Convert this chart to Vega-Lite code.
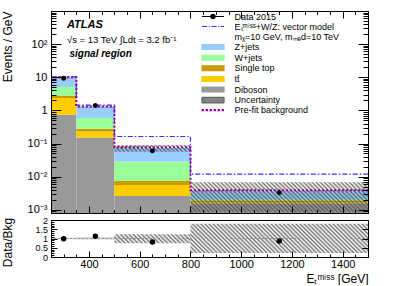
{
  "$schema": "https://vega.github.io/schema/vega-lite/v6.json",
  "padding": {"left": 0, "top": 10, "right": 0, "bottom": 0},
  "bounds": "flush",
  "spacing": 7,
  "config": {
    "font": "Liberation Sans",
    "view": {"stroke": "black", "strokeWidth": 1},
    "axis": {"grid": false, "domainColor": "black", "tickColor": "black", "labelColor": "black", "titleColor": "black", "titleFontWeight": "normal", "tickWidth": 1, "domainWidth": 1}
  },
  "datasets": {
    "stack": [
      {"lo": 250, "hi": 350, "process": "Diboson", "v": 0.74},
      {"lo": 250, "hi": 350, "process": "tt\u0304", "v": 1.62},
      {"lo": 250, "hi": 350, "process": "Single top", "v": 0.44},
      {"lo": 250, "hi": 350, "process": "W+jets", "v": 2.3},
      {"lo": 250, "hi": 350, "process": "Z+jets", "v": 4.2},
      {"lo": 350, "hi": 500, "process": "Diboson", "v": 0.152},
      {"lo": 350, "hi": 500, "process": "tt\u0304", "v": 0.079},
      {"lo": 350, "hi": 500, "process": "Single top", "v": 0.048},
      {"lo": 350, "hi": 500, "process": "W+jets", "v": 0.306},
      {"lo": 350, "hi": 500, "process": "Z+jets", "v": 0.675},
      {"lo": 500, "hi": 800, "process": "Diboson", "v": 0.0026},
      {"lo": 500, "hi": 800, "process": "tt\u0304", "v": 0.003},
      {"lo": 500, "hi": 800, "process": "Single top", "v": 0.0018},
      {"lo": 500, "hi": 800, "process": "W+jets", "v": 0.0211},
      {"lo": 500, "hi": 800, "process": "Z+jets", "v": 0.0445},
      {"lo": 800, "hi": 1500, "process": "Diboson", "v": 0.00158},
      {"lo": 800, "hi": 1500, "process": "tt\u0304", "v": 0.00012},
      {"lo": 800, "hi": 1500, "process": "Single top", "v": 0.0002},
      {"lo": 800, "hi": 1500, "process": "W+jets", "v": 0.0002},
      {"lo": 800, "hi": 1500, "process": "Z+jets", "v": 0.0017}
    ],
    "bins": [
      {"lo": 250, "hi": 350, "center": 300, "data": 9.4, "sig": 10.3, "prefit": 10.0, "ulo": 8.9, "uhi": 9.7, "ratio": 0.99, "rlo": 0.96, "rhi": 1.04},
      {"lo": 350, "hi": 500, "center": 425, "data": 1.41, "sig": 1.45, "prefit": 1.32, "ulo": 1.19, "uhi": 1.33, "ratio": 1.12, "rlo": 0.94, "rhi": 1.07},
      {"lo": 500, "hi": 800, "center": 650, "data": 0.061, "sig": 0.163, "prefit": 0.077, "ulo": 0.056, "uhi": 0.09, "ratio": 0.81, "rlo": 0.75, "rhi": 1.23},
      {"lo": 800, "hi": 1500, "center": 1150, "data": 0.0033, "sig": 0.012, "prefit": 0.0039, "ulo": 0.00085, "uhi": 0.0068, "ratio": 0.86, "rlo": 0.22, "rhi": 1.8}
    ]
  },
  "vconcat": [
    {
      "width": 317,
      "height": 202,
      "resolve": {"axis": {"x": "independent", "y": "independent"}},
      "layer": [
        {
          "data": {"name": "stack"},
          "transform": [{"stack": "v", "groupby": ["lo"], "as": ["s0", "s1"]}],
          "mark": {"type": "rect"},
          "encoding": {
            "x": {"field": "lo", "type": "quantitative", "scale": {"domain": [250, 1500], "nice": false, "zero": false},
              "axis": {"orient": "bottom", "values": [400, 600, 800, 1000, 1200, 1400], "labels": false, "title": null, "domain": true, "tickSize": -7, "zindex": 1}},
            "x2": {"field": "hi"},
            "y": {"field": "s1", "type": "quantitative", "scale": {"type": "log", "domain": [0.0008, 1000], "nice": false, "clamp": true},
              "axis": {"orient": "left", "values": [0.001, 0.01, 0.1, 1, 10, 100],
                "labelExpr": "datum.value == 0.001 ? '10⁻³' : datum.value == 0.01 ? '10⁻²' : datum.value == 0.1 ? '10⁻¹' : datum.value == 1 ? '1' : datum.value == 10 ? '10' : '10²'",
                "labelFontSize": 11, "labelPadding": 14, "labelOverlap": false,
                "title": "Events / GeV", "titleFontSize": 12, "titleX": -40, "titleY": 0, "titleAlign": "right", "titleAngle": 270, "titleBaseline": "alphabetic",
                "domain": true, "tickSize": -10, "zindex": 1}},
            "y2": {"field": "s0"},
            "color": {"field": "process", "type": "nominal",
              "scale": {"domain": ["Data 2015", "Eₜᵐⁱˢˢ+W/Z: vector model", "mᵪ=10 GeV, mₘₑd=10 TeV", "Z+jets", "W+jets", "Single top", "tt\u0304", "Diboson", "Uncertainty", "Pre-fit background"],
                "range": ["#000000", "#3030ff", "#ffffff", "#99ccff", "#99ff99", "#cc9900", "#ffcc00", "#999999", "#666666", "#990099"]},
              "legend": {"orient": "none", "legendX": 151, "legendY": 1, "title": null, "padding": 0, "symbolSize": 36, "symbolStrokeWidth": 1.2, "symbolOffset": 6.5, "labelOffset": 17, "labelFontSize": 9, "labelColor": "black", "rowPadding": -0.4, "labelLimit": 300, "symbolOpacity": 1}
            }
          }
        },
        {
          "data": {"name": "bins"},
          "transform": [{"filter": "datum.lo < 500"}],
          "mark": {"type": "rect", "fill": "#666666", "fillOpacity": 0.3},
          "encoding": {
            "x": {"field": "lo", "type": "quantitative", "scale": {"domain": [250, 1500], "nice": false, "zero": false},
              "axis": {"orient": "bottom", "values": [250,300,350,450,500,550,650,700,750,850,900,950,1050,1100,1150,1250,1300,1350,1450,1500], "labels": false, "title": null, "domain": false, "tickSize": -3.5, "zindex": 1}},
            "x2": {"field": "hi"},
            "y": {"field": "ulo", "type": "quantitative", "scale": {"type": "log", "domain": [0.0008, 1000], "nice": false, "clamp": true},
              "axis": {"orient": "left", "values": [0.0008,0.0009,0.002,0.003,0.004,0.005,0.006,0.007,0.008,0.009,0.02,0.03,0.04,0.05,0.06,0.07,0.08,0.09,0.2,0.3,0.4,0.5,0.6,0.7,0.8,0.9,2,3,4,5,6,7,8,9,20,30,40,50,60,70,80,90,200,300,400,500,600,700,800,900], "labels": false, "title": null, "domain": false, "tickSize": -5, "zindex": 1}},
            "y2": {"field": "uhi"}
          }
        },
        {
          "data": {"name": "bins"},
          "transform": [{"filter": "datum.lo == 500"}],
          "mark": {"type": "rect", "fill": {"gradient": "linear", "x1": 0, "y1": 1, "x2": 1.081, "y2": 0.9033, "stops": [
            {"offset":0,"color":"#46464600"},{"offset":0.025,"color":"#464646bf"},{"offset":0.05,"color":"#46464600"},{"offset":0.075,"color":"#464646bf"},
            {"offset":0.1,"color":"#46464600"},{"offset":0.125,"color":"#464646bf"},{"offset":0.15,"color":"#46464600"},{"offset":0.175,"color":"#464646bf"},
            {"offset":0.2,"color":"#46464600"},{"offset":0.225,"color":"#464646bf"},{"offset":0.25,"color":"#46464600"},{"offset":0.275,"color":"#464646bf"},
            {"offset":0.3,"color":"#46464600"},{"offset":0.325,"color":"#464646bf"},{"offset":0.35,"color":"#46464600"},{"offset":0.375,"color":"#464646bf"},
            {"offset":0.4,"color":"#46464600"},{"offset":0.425,"color":"#464646bf"},{"offset":0.45,"color":"#46464600"},{"offset":0.475,"color":"#464646bf"},
            {"offset":0.5,"color":"#46464600"},{"offset":0.525,"color":"#464646bf"},{"offset":0.55,"color":"#46464600"},{"offset":0.575,"color":"#464646bf"},
            {"offset":0.6,"color":"#46464600"},{"offset":0.625,"color":"#464646bf"},{"offset":0.65,"color":"#46464600"},{"offset":0.675,"color":"#464646bf"},
            {"offset":0.7,"color":"#46464600"},{"offset":0.725,"color":"#464646bf"},{"offset":0.75,"color":"#46464600"},{"offset":0.775,"color":"#464646bf"},
            {"offset":0.8,"color":"#46464600"},{"offset":0.825,"color":"#464646bf"},{"offset":0.85,"color":"#46464600"},{"offset":0.875,"color":"#464646bf"},
            {"offset":0.9,"color":"#46464600"},{"offset":0.925,"color":"#464646bf"},{"offset":0.95,"color":"#46464600"},{"offset":0.975,"color":"#464646bf"},
            {"offset":1,"color":"#46464600"}]}},
          "encoding": {
            "x": {"field": "lo", "type": "quantitative", "scale": {"domain": [250, 1500], "nice": false, "zero": false}, "axis": null},
            "x2": {"field": "hi"},
            "y": {"field": "ulo", "type": "quantitative", "scale": {"type": "log", "domain": [0.0008, 1000], "nice": false, "clamp": true}, "axis": null},
            "y2": {"field": "uhi"}
          }
        },
        {
          "data": {"name": "bins"},
          "transform": [{"filter": "datum.lo == 800"}],
          "mark": {"type": "rect", "fill": {"gradient": "linear", "x1": 0, "y1": 1, "x2": 1.136, "y2": 0.8085, "stops": [
            {"offset":0,"color":"#46464600"},{"offset":0.01,"color":"#464646bf"},{"offset":0.02,"color":"#46464600"},{"offset":0.03,"color":"#464646bf"},{"offset":0.04,"color":"#46464600"},
            {"offset":0.05,"color":"#464646bf"},{"offset":0.06,"color":"#46464600"},{"offset":0.07,"color":"#464646bf"},{"offset":0.08,"color":"#46464600"},{"offset":0.09,"color":"#464646bf"},
            {"offset":0.1,"color":"#46464600"},{"offset":0.11,"color":"#464646bf"},{"offset":0.12,"color":"#46464600"},{"offset":0.13,"color":"#464646bf"},{"offset":0.14,"color":"#46464600"},
            {"offset":0.15,"color":"#464646bf"},{"offset":0.16,"color":"#46464600"},{"offset":0.17,"color":"#464646bf"},{"offset":0.18,"color":"#46464600"},{"offset":0.19,"color":"#464646bf"},
            {"offset":0.2,"color":"#46464600"},{"offset":0.21,"color":"#464646bf"},{"offset":0.22,"color":"#46464600"},{"offset":0.23,"color":"#464646bf"},{"offset":0.24,"color":"#46464600"},
            {"offset":0.25,"color":"#464646bf"},{"offset":0.26,"color":"#46464600"},{"offset":0.27,"color":"#464646bf"},{"offset":0.28,"color":"#46464600"},{"offset":0.29,"color":"#464646bf"},
            {"offset":0.3,"color":"#46464600"},{"offset":0.31,"color":"#464646bf"},{"offset":0.32,"color":"#46464600"},{"offset":0.33,"color":"#464646bf"},{"offset":0.34,"color":"#46464600"},
            {"offset":0.35,"color":"#464646bf"},{"offset":0.36,"color":"#46464600"},{"offset":0.37,"color":"#464646bf"},{"offset":0.38,"color":"#46464600"},{"offset":0.39,"color":"#464646bf"},
            {"offset":0.4,"color":"#46464600"},{"offset":0.41,"color":"#464646bf"},{"offset":0.42,"color":"#46464600"},{"offset":0.43,"color":"#464646bf"},{"offset":0.44,"color":"#46464600"},
            {"offset":0.45,"color":"#464646bf"},{"offset":0.46,"color":"#46464600"},{"offset":0.47,"color":"#464646bf"},{"offset":0.48,"color":"#46464600"},{"offset":0.49,"color":"#464646bf"},
            {"offset":0.5,"color":"#46464600"},{"offset":0.51,"color":"#464646bf"},{"offset":0.52,"color":"#46464600"},{"offset":0.53,"color":"#464646bf"},{"offset":0.54,"color":"#46464600"},
            {"offset":0.55,"color":"#464646bf"},{"offset":0.56,"color":"#46464600"},{"offset":0.57,"color":"#464646bf"},{"offset":0.58,"color":"#46464600"},{"offset":0.59,"color":"#464646bf"},
            {"offset":0.6,"color":"#46464600"},{"offset":0.61,"color":"#464646bf"},{"offset":0.62,"color":"#46464600"},{"offset":0.63,"color":"#464646bf"},{"offset":0.64,"color":"#46464600"},
            {"offset":0.65,"color":"#464646bf"},{"offset":0.66,"color":"#46464600"},{"offset":0.67,"color":"#464646bf"},{"offset":0.68,"color":"#46464600"},{"offset":0.69,"color":"#464646bf"},
            {"offset":0.7,"color":"#46464600"},{"offset":0.71,"color":"#464646bf"},{"offset":0.72,"color":"#46464600"},{"offset":0.73,"color":"#464646bf"},{"offset":0.74,"color":"#46464600"},
            {"offset":0.75,"color":"#464646bf"},{"offset":0.76,"color":"#46464600"},{"offset":0.77,"color":"#464646bf"},{"offset":0.78,"color":"#46464600"},{"offset":0.79,"color":"#464646bf"},
            {"offset":0.8,"color":"#46464600"},{"offset":0.81,"color":"#464646bf"},{"offset":0.82,"color":"#46464600"},{"offset":0.83,"color":"#464646bf"},{"offset":0.84,"color":"#46464600"},
            {"offset":0.85,"color":"#464646bf"},{"offset":0.86,"color":"#46464600"},{"offset":0.87,"color":"#464646bf"},{"offset":0.88,"color":"#46464600"},{"offset":0.89,"color":"#464646bf"},
            {"offset":0.9,"color":"#46464600"},{"offset":0.91,"color":"#464646bf"},{"offset":0.92,"color":"#46464600"},{"offset":0.93,"color":"#464646bf"},{"offset":0.94,"color":"#46464600"},
            {"offset":0.95,"color":"#464646bf"},{"offset":0.96,"color":"#46464600"},{"offset":0.97,"color":"#464646bf"},{"offset":0.98,"color":"#46464600"},{"offset":0.99,"color":"#464646bf"},
            {"offset":1,"color":"#46464600"}]}},
          "encoding": {
            "x": {"field": "lo", "type": "quantitative", "scale": {"domain": [250, 1500], "nice": false, "zero": false}, "axis": null},
            "x2": {"field": "hi"},
            "y": {"field": "ulo", "type": "quantitative", "scale": {"type": "log", "domain": [0.0008, 1000], "nice": false, "clamp": true}, "axis": null},
            "y2": {"field": "uhi"}
          }
        },
        {
          "data": {"name": "bins"},
          "transform": [{"fold": ["lo", "hi"], "as": ["edge", "x"]}],
          "mark": {"type": "line", "strokeWidth": 1.2, "strokeDash": [5, 2, 1.5, 2]},
          "encoding": {
            "x": {"field": "x", "type": "quantitative", "scale": {"domain": [250, 1500], "nice": false, "zero": false},
              "axis": {"orient": "top", "values": [400, 600, 800, 1000, 1200, 1400], "labels": false, "title": null, "domain": true, "tickSize": -7, "zindex": 1}},
            "y": {"field": "sig", "type": "quantitative", "scale": {"type": "log", "domain": [0.0008, 1000], "nice": false, "clamp": true},
              "axis": {"orient": "right", "values": [0.001, 0.01, 0.1, 1, 10, 100], "labels": false, "title": null, "domain": true, "tickSize": -10, "zindex": 1}},
            "color": {"datum": "Eₜᵐⁱˢˢ+W/Z: vector model", "type": "nominal"}
          }
        },
        {
          "data": {"name": "bins"},
          "transform": [{"fold": ["lo", "hi"], "as": ["edge", "x"]}],
          "mark": {"type": "line", "strokeWidth": 2, "strokeDash": [2, 2]},
          "encoding": {
            "x": {"field": "x", "type": "quantitative", "scale": {"domain": [250, 1500], "nice": false, "zero": false},
              "axis": {"orient": "top", "values": [250,300,350,450,500,550,650,700,750,850,900,950,1050,1100,1150,1250,1300,1350,1450,1500], "labels": false, "title": null, "domain": false, "tickSize": -3.5, "zindex": 1}},
            "y": {"field": "prefit", "type": "quantitative", "scale": {"type": "log", "domain": [0.0008, 1000], "nice": false, "clamp": true},
              "axis": {"orient": "right", "values": [0.0008,0.0009,0.002,0.003,0.004,0.005,0.006,0.007,0.008,0.009,0.02,0.03,0.04,0.05,0.06,0.07,0.08,0.09,0.2,0.3,0.4,0.5,0.6,0.7,0.8,0.9,2,3,4,5,6,7,8,9,20,30,40,50,60,70,80,90,200,300,400,500,600,700,800,900], "labels": false, "title": null, "domain": false, "tickSize": -5, "zindex": 1}},
            "color": {"datum": "Pre-fit background", "type": "nominal"}
          }
        },
        {
          "data": {"name": "bins"},
          "mark": {"type": "point", "filled": true, "size": 47, "strokeWidth": 0, "opacity": 1},
          "encoding": {
            "x": {"field": "center", "type": "quantitative", "scale": {"domain": [250, 1500], "nice": false, "zero": false}, "axis": null},
            "y": {"field": "data", "type": "quantitative", "scale": {"type": "log", "domain": [0.0008, 1000], "nice": false, "clamp": true}, "axis": null},
            "color": {"datum": "Data 2015", "type": "nominal"},
            "shape": {"datum": "Data 2015", "type": "nominal",
              "scale": {"domain": ["Data 2015", "Eₜᵐⁱˢˢ+W/Z: vector model", "mᵪ=10 GeV, mₘₑd=10 TeV", "Z+jets", "W+jets", "Single top", "tt\u0304", "Diboson", "Uncertainty", "Pre-fit background"],
                "range": [
                  "M-3.67,0H3.67M0.73,0A0.73,0.73,0,1,1,-0.73,0A0.73,0.73,0,1,1,0.73,0Z",
                  "M-3.67,0H-1.93M-1.4,0H-1.07M-0.53,0H1.2M1.73,0H2.07M2.6,0H3.67",
                  "M0,0",
                  "M-3.67,-0.8H3.67V0.8H-3.67Z",
                  "M-3.67,-0.8H3.67V0.8H-3.67Z",
                  "M-3.67,-0.8H3.67V0.8H-3.67Z",
                  "M-3.67,-0.8H3.67V0.8H-3.67Z",
                  "M-3.67,-0.8H3.67V0.8H-3.67Z",
                  "M-3.67,-0.93H3.67M-3.67,0.93H3.67M-3.67,-0.93V0.93M3.67,-0.93V0.93M-3.67,0.4L-3.14,0.93M-3.67,-0.27L-2.46,0.93M-3.67,-0.93L-1.8,0.93M-3,-0.93L-1.13,0.93M-2.33,-0.93L-0.46,0.93M-1.67,-0.93L0.2,0.93M-1,-0.93L0.87,0.93M-0.33,-0.93L1.54,0.93M0.33,-0.93L2.2,0.93M1,-0.93L2.87,0.93M1.67,-0.93L3.54,0.93M2.33,-0.93L3.67,0.41M3,-0.93L3.67,-0.26",
                  "M-3.6,-0.2h0.4v0.4h-0.4ZM-2.27,-0.2h0.4v0.4h-0.4ZM-0.93,-0.2h0.4v0.4h-0.4ZM0.4,-0.2h0.4v0.4h-0.4ZM1.73,-0.2h0.4v0.4h-0.4ZM3.07,-0.2h0.4v0.4h-0.4Z"
                ]},
              "legend": {"orient": "none", "legendX": 151, "legendY": 1, "title": null, "padding": 0, "symbolSize": 36, "symbolStrokeWidth": 1.2, "symbolOffset": 6.5, "labelOffset": 17, "labelFontSize": 9, "labelColor": "black", "rowPadding": -0.4, "labelLimit": 300, "symbolOpacity": 1}
            }
          }
        },
        {
          "data": {"values": [{}]},
          "mark": {"type": "text", "text": "ATLAS", "fontSize": 11, "fontWeight": "bold", "fontStyle": "italic", "align": "left", "baseline": "middle", "color": "black"},
          "encoding": {
            "x": {"datum": 313, "type": "quantitative", "scale": {"domain": [250, 1500], "nice": false, "zero": false}, "axis": null},
            "y": {"datum": 377, "type": "quantitative", "scale": {"type": "log", "domain": [0.0008, 1000], "nice": false, "clamp": true}, "axis": null}
          }
        },
        {
          "data": {"values": [{}]},
          "mark": {"type": "text", "text": "√s = 13 TeV  ∫Ldt = 3.2 fb⁻¹", "fontSize": 9.5, "align": "left", "baseline": "middle", "color": "black"},
          "encoding": {
            "x": {"datum": 313, "type": "quantitative", "scale": {"domain": [250, 1500], "nice": false, "zero": false}, "axis": null},
            "y": {"datum": 137, "type": "quantitative", "scale": {"type": "log", "domain": [0.0008, 1000], "nice": false, "clamp": true}, "axis": null}
          }
        },
        {
          "data": {"values": [{}]},
          "mark": {"type": "text", "text": "signal region", "fontSize": 10, "fontWeight": "bold", "fontStyle": "italic", "align": "left", "baseline": "middle", "color": "black"},
          "encoding": {
            "x": {"datum": 323, "type": "quantitative", "scale": {"domain": [250, 1500], "nice": false, "zero": false}, "axis": null},
            "y": {"datum": 50, "type": "quantitative", "scale": {"type": "log", "domain": [0.0008, 1000], "nice": false, "clamp": true}, "axis": null}
          }
        }
      ]
    },
    {
      "width": 317,
      "height": 37,
      "resolve": {"axis": {"x": "independent", "y": "independent"}},
      "layer": [
        {
          "data": {"name": "bins"},
          "transform": [{"filter": "datum.lo < 500"}],
          "mark": {"type": "rect", "fill": "#666666", "fillOpacity": 0.3},
          "encoding": {
            "x": {"field": "lo", "type": "quantitative", "scale": {"domain": [250, 1500], "nice": false, "zero": false},
              "axis": {"orient": "bottom", "values": [400, 600, 800, 1000, 1200, 1400], "labelExpr": "toString(datum.value)",
                "labelFontSize": 11, "labelPadding": 7.5, "labelFlush": false, "labelOverlap": false,
                "title": "Eₜᵐⁱˢˢ [GeV]", "titleFontSize": 12, "titleX": 317, "titleY": 25, "titleAlign": "right", "titleBaseline": "alphabetic",
                "domain": true, "tickSize": -6, "zindex": 1}},
            "x2": {"field": "hi"},
            "y": {"field": "rlo", "type": "quantitative", "scale": {"domain": [0, 2], "nice": false, "zero": false},
              "axis": {"orient": "left", "values": [0, 0.5, 1, 1.5, 2], "labelExpr": "toString(datum.value)",
                "labelFontSize": 9, "labelPadding": 9.5, "labelOverlap": false, "labelFlush": false,
                "title": "Data/Bkg", "titleFontSize": 12, "titleX": -40, "titleY": 22, "titleAlign": "center", "titleAngle": 270, "titleBaseline": "alphabetic",
                "domain": true, "tickSize": -6, "zindex": 1}},
            "y2": {"field": "rhi"}
          }
        },
        {
          "data": {"name": "bins"},
          "transform": [{"filter": "datum.lo == 500"}],
          "mark": {"type": "rect", "fill": {"gradient": "linear", "x1": 0, "y1": 1, "x2": 1.102, "y2": 0.8714, "stops": [
            {"offset":0,"color":"#46464600"},{"offset":0.025,"color":"#464646bf"},{"offset":0.05,"color":"#46464600"},{"offset":0.075,"color":"#464646bf"},
            {"offset":0.1,"color":"#46464600"},{"offset":0.125,"color":"#464646bf"},{"offset":0.15,"color":"#46464600"},{"offset":0.175,"color":"#464646bf"},
            {"offset":0.2,"color":"#46464600"},{"offset":0.225,"color":"#464646bf"},{"offset":0.25,"color":"#46464600"},{"offset":0.275,"color":"#464646bf"},
            {"offset":0.3,"color":"#46464600"},{"offset":0.325,"color":"#464646bf"},{"offset":0.35,"color":"#46464600"},{"offset":0.375,"color":"#464646bf"},
            {"offset":0.4,"color":"#46464600"},{"offset":0.425,"color":"#464646bf"},{"offset":0.45,"color":"#46464600"},{"offset":0.475,"color":"#464646bf"},
            {"offset":0.5,"color":"#46464600"},{"offset":0.525,"color":"#464646bf"},{"offset":0.55,"color":"#46464600"},{"offset":0.575,"color":"#464646bf"},
            {"offset":0.6,"color":"#46464600"},{"offset":0.625,"color":"#464646bf"},{"offset":0.65,"color":"#46464600"},{"offset":0.675,"color":"#464646bf"},
            {"offset":0.7,"color":"#46464600"},{"offset":0.725,"color":"#464646bf"},{"offset":0.75,"color":"#46464600"},{"offset":0.775,"color":"#464646bf"},
            {"offset":0.8,"color":"#46464600"},{"offset":0.825,"color":"#464646bf"},{"offset":0.85,"color":"#46464600"},{"offset":0.875,"color":"#464646bf"},
            {"offset":0.9,"color":"#46464600"},{"offset":0.925,"color":"#464646bf"},{"offset":0.95,"color":"#46464600"},{"offset":0.975,"color":"#464646bf"},
            {"offset":1,"color":"#46464600"}]}},
          "encoding": {
            "x": {"field": "lo", "type": "quantitative", "scale": {"domain": [250, 1500], "nice": false, "zero": false}, "axis": null},
            "x2": {"field": "hi"},
            "y": {"field": "rlo", "type": "quantitative", "scale": {"domain": [0, 2], "nice": false, "zero": false}, "axis": null},
            "y2": {"field": "rhi"}
          }
        },
        {
          "data": {"name": "bins"},
          "transform": [{"filter": "datum.lo == 800"}],
          "mark": {"type": "rect", "fill": {"gradient": "linear", "x1": 0, "y1": 1, "x2": 1.134, "y2": 0.8135, "stops": [
            {"offset":0,"color":"#46464600"},{"offset":0.01,"color":"#464646bf"},{"offset":0.02,"color":"#46464600"},{"offset":0.03,"color":"#464646bf"},{"offset":0.04,"color":"#46464600"},
            {"offset":0.05,"color":"#464646bf"},{"offset":0.06,"color":"#46464600"},{"offset":0.07,"color":"#464646bf"},{"offset":0.08,"color":"#46464600"},{"offset":0.09,"color":"#464646bf"},
            {"offset":0.1,"color":"#46464600"},{"offset":0.11,"color":"#464646bf"},{"offset":0.12,"color":"#46464600"},{"offset":0.13,"color":"#464646bf"},{"offset":0.14,"color":"#46464600"},
            {"offset":0.15,"color":"#464646bf"},{"offset":0.16,"color":"#46464600"},{"offset":0.17,"color":"#464646bf"},{"offset":0.18,"color":"#46464600"},{"offset":0.19,"color":"#464646bf"},
            {"offset":0.2,"color":"#46464600"},{"offset":0.21,"color":"#464646bf"},{"offset":0.22,"color":"#46464600"},{"offset":0.23,"color":"#464646bf"},{"offset":0.24,"color":"#46464600"},
            {"offset":0.25,"color":"#464646bf"},{"offset":0.26,"color":"#46464600"},{"offset":0.27,"color":"#464646bf"},{"offset":0.28,"color":"#46464600"},{"offset":0.29,"color":"#464646bf"},
            {"offset":0.3,"color":"#46464600"},{"offset":0.31,"color":"#464646bf"},{"offset":0.32,"color":"#46464600"},{"offset":0.33,"color":"#464646bf"},{"offset":0.34,"color":"#46464600"},
            {"offset":0.35,"color":"#464646bf"},{"offset":0.36,"color":"#46464600"},{"offset":0.37,"color":"#464646bf"},{"offset":0.38,"color":"#46464600"},{"offset":0.39,"color":"#464646bf"},
            {"offset":0.4,"color":"#46464600"},{"offset":0.41,"color":"#464646bf"},{"offset":0.42,"color":"#46464600"},{"offset":0.43,"color":"#464646bf"},{"offset":0.44,"color":"#46464600"},
            {"offset":0.45,"color":"#464646bf"},{"offset":0.46,"color":"#46464600"},{"offset":0.47,"color":"#464646bf"},{"offset":0.48,"color":"#46464600"},{"offset":0.49,"color":"#464646bf"},
            {"offset":0.5,"color":"#46464600"},{"offset":0.51,"color":"#464646bf"},{"offset":0.52,"color":"#46464600"},{"offset":0.53,"color":"#464646bf"},{"offset":0.54,"color":"#46464600"},
            {"offset":0.55,"color":"#464646bf"},{"offset":0.56,"color":"#46464600"},{"offset":0.57,"color":"#464646bf"},{"offset":0.58,"color":"#46464600"},{"offset":0.59,"color":"#464646bf"},
            {"offset":0.6,"color":"#46464600"},{"offset":0.61,"color":"#464646bf"},{"offset":0.62,"color":"#46464600"},{"offset":0.63,"color":"#464646bf"},{"offset":0.64,"color":"#46464600"},
            {"offset":0.65,"color":"#464646bf"},{"offset":0.66,"color":"#46464600"},{"offset":0.67,"color":"#464646bf"},{"offset":0.68,"color":"#46464600"},{"offset":0.69,"color":"#464646bf"},
            {"offset":0.7,"color":"#46464600"},{"offset":0.71,"color":"#464646bf"},{"offset":0.72,"color":"#46464600"},{"offset":0.73,"color":"#464646bf"},{"offset":0.74,"color":"#46464600"},
            {"offset":0.75,"color":"#464646bf"},{"offset":0.76,"color":"#46464600"},{"offset":0.77,"color":"#464646bf"},{"offset":0.78,"color":"#46464600"},{"offset":0.79,"color":"#464646bf"},
            {"offset":0.8,"color":"#46464600"},{"offset":0.81,"color":"#464646bf"},{"offset":0.82,"color":"#46464600"},{"offset":0.83,"color":"#464646bf"},{"offset":0.84,"color":"#46464600"},
            {"offset":0.85,"color":"#464646bf"},{"offset":0.86,"color":"#46464600"},{"offset":0.87,"color":"#464646bf"},{"offset":0.88,"color":"#46464600"},{"offset":0.89,"color":"#464646bf"},
            {"offset":0.9,"color":"#46464600"},{"offset":0.91,"color":"#464646bf"},{"offset":0.92,"color":"#46464600"},{"offset":0.93,"color":"#464646bf"},{"offset":0.94,"color":"#46464600"},
            {"offset":0.95,"color":"#464646bf"},{"offset":0.96,"color":"#46464600"},{"offset":0.97,"color":"#464646bf"},{"offset":0.98,"color":"#46464600"},{"offset":0.99,"color":"#464646bf"},
            {"offset":1,"color":"#46464600"}]}},
          "encoding": {
            "x": {"field": "lo", "type": "quantitative", "scale": {"domain": [250, 1500], "nice": false, "zero": false}, "axis": null},
            "x2": {"field": "hi"},
            "y": {"field": "rlo", "type": "quantitative", "scale": {"domain": [0, 2], "nice": false, "zero": false}, "axis": null},
            "y2": {"field": "rhi"}
          }
        },
        {
          "data": {"values": [{}]},
          "mark": {"type": "rule", "color": "#888888", "strokeDash": [2, 2], "strokeWidth": 0.8},
          "encoding": {
            "y": {"datum": 1, "type": "quantitative", "scale": {"domain": [0, 2], "nice": false, "zero": false},
              "axis": {"orient": "right", "values": [0, 0.5, 1, 1.5, 2], "labels": false, "title": null, "domain": true, "tickSize": -6, "zindex": 1}}
          }
        },
        {
          "data": {"name": "bins"},
          "mark": {"type": "point", "filled": true, "shape": "circle", "size": 30, "color": "black", "opacity": 1},
          "encoding": {
            "x": {"field": "center", "type": "quantitative", "scale": {"domain": [250, 1500], "nice": false, "zero": false},
              "axis": {"orient": "bottom", "values": [250,300,350,450,500,550,650,700,750,850,900,950,1050,1100,1150,1250,1300,1350,1450,1500], "labels": false, "title": null, "domain": false, "tickSize": -3, "zindex": 1}},
            "y": {"field": "ratio", "type": "quantitative", "scale": {"domain": [0, 2], "nice": false, "zero": false},
              "axis": {"orient": "left", "values": [0.1,0.2,0.3,0.4,0.6,0.7,0.8,0.9,1.1,1.2,1.3,1.4,1.6,1.7,1.8,1.9], "labels": false, "title": null, "domain": false, "tickSize": -3, "zindex": 1}}
          }
        }
      ]
    }
  ]
}
